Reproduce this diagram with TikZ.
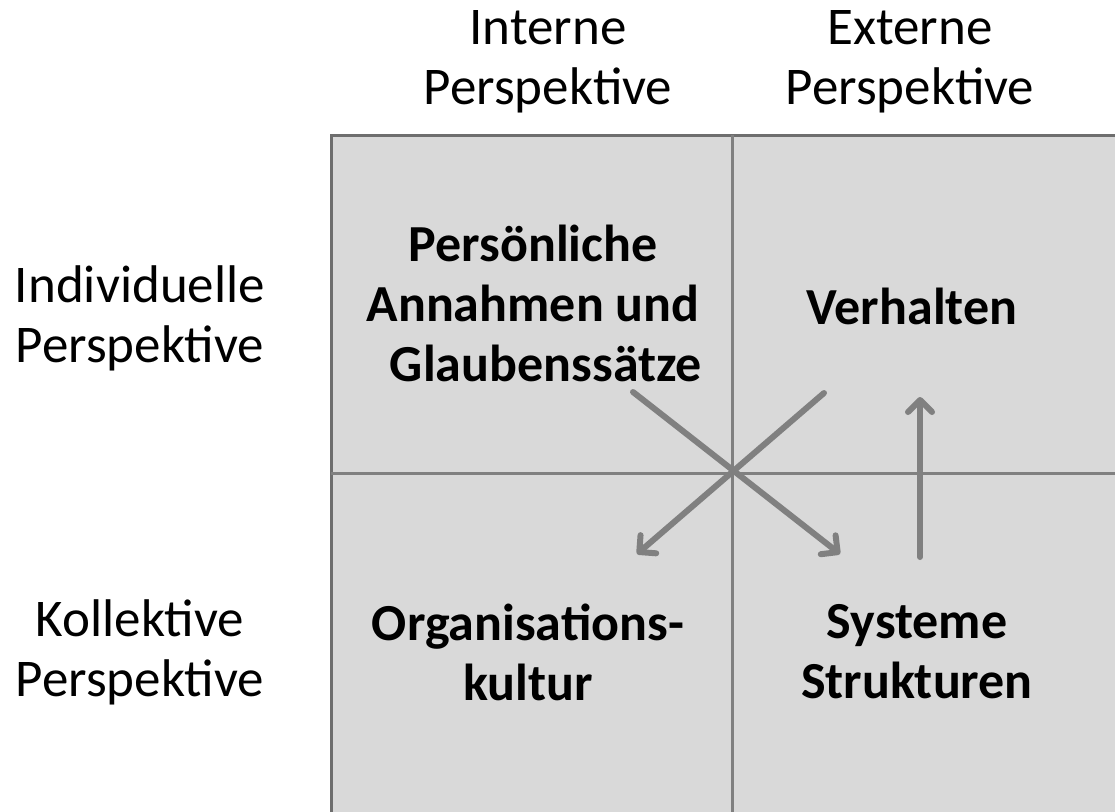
\documentclass[tikz,border=0pt]{standalone}
\usepackage{fontspec}
\setmainfont{Carlito}
\usetikzlibrary{arrows.meta}

\definecolor{cellgray}{HTML}{D9D9D9}
\definecolor{framegray}{HTML}{6E6E6E}
\definecolor{linegray}{HTML}{808080}

\tikzset{
    headline/.style={align=center, font=\fontsize{53}{60}\selectfont},
    cell/.style={align=center, font=\fontsize{52}{60}\selectfont\bfseries},
    flow/.style={linegray, line width=6pt, line cap=round,
        -{Straight Barb[length=12pt, width=24pt, round]}},
}

\begin{document}
\begin{tikzpicture}[x=1pt, y=-1pt]
    \useasboundingbox (0, 0) rectangle (1115, 811);
    % quadrant frame
    \fill [cellgray] (331, 135) rectangle (1130, 830);
    \draw [framegray, line width=3pt] (331, 830) -- (331, 135) -- (1130, 135);
    \draw [linegray, line width=3pt]
        (732, 135) -- (732, 830)
        (331, 473) -- (1130, 473);

    % column and row titles
    \node [headline] (intern) at (548, 62) {Interne\\Perspektive};
    \node [headline] (extern) at (910, 62) {Externe\\Perspektive};
    \node [headline] (indiv) at (140, 318) {Individuelle\\Perspektive};
    \node [headline] (kollek) at (140, 652) {Kollektive\\Perspektive};

    % quadrants
    \node [cell] (glauben) at (533, 303)
        {Persönliche\\Annahmen und\\\hspace*{26pt}Glaubenssätze};
    \node [cell] (verhalten) at (912, 306) {Verhalten};
    \node [cell] (kultur) at (528, 652) {Organisations-\\kultur};
    \node [cell] (systeme) at (917, 652) {Systeme\\Strukturen};

    % arrow ends
    \coordinate (g-out) at (633, 392);
    \coordinate (v-out) at (824, 393);
    \coordinate (s-out) at (920, 557);
    \coordinate (k-in) at (637, 554);
    \coordinate (s-in) at (840, 554);
    \coordinate (v-in) at (920, 397);

    \draw [flow] (g-out) -- (s-in);
    \draw [flow] (v-out) -- (k-in);
    \draw [flow] (s-out) -- (v-in);
\end{tikzpicture}
\end{document}
